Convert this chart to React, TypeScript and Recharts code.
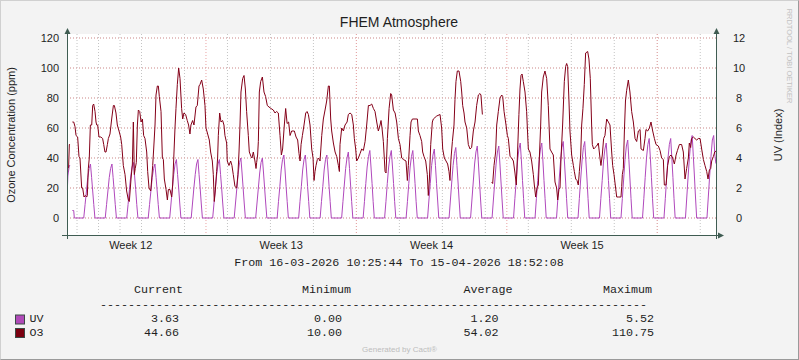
import { LineChart, Line, XAxis, YAxis, CartesianGrid } from "recharts"

// hours since 16-03-2026 00:00 (axis time), O3 in ppm
const o3Readings: [number, number | null][] = [
  [12.8, 27], [13.8, 33], [14.6, 34], [15.4, 49], [16.2, 49], [17.5, null], [18.8, 64], [20.3, 64],
  [21.7, 61], [22.9, 55], [24.7, 54], [26.2, 41], [27.3, 40], [29.2, 20], [30.3, 20], [31.8, 14],
  [33.3, 15], [34.8, 14], [35.5, 15], [36.6, 33], [37.7, 40], [38.9, 62], [40.4, 62], [41.5, 75],
  [42.6, 76], [44.1, 71], [45.2, 64], [46.0, 62], [47.1, 62], [48.5, 54], [50.6, 54], [52.6, 53],
  [53.8, 49], [55.2, 44], [56.4, 44], [57.9, 49], [59.0, 53], [60.8, 56], [62.7, 66], [64.6, 75],
  [65.7, 75], [67.5, 70], [69.0, 62], [70.9, 58], [72.7, 54], [73.9, 49], [75.7, 35], [77.6, 29],
  [79.4, 18], [81.3, 12], [82.4, 11], [84.3, 26], [85.8, 36], [86.9, 64], [88.0, 29], [89.0, 33],
  [90.2, 37], [91.4, 62], [92.5, 72], [94.0, 71], [95.5, 64], [97.0, 66], [98.4, 55], [99.9, 53],
  [101.8, 44], [102.9, 31], [104.4, 20], [106.3, 18], [107.4, 26], [108.5, 35], [109.6, 46], [111.1, 62],
  [112.2, 82], [113.7, 88], [114.8, 88], [115.9, 81], [117.8, 71], [119.3, 40], [120.4, 39], [121.5, 26],
  [123.4, 19], [124.9, 12], [126.0, 19], [127.8, 19], [129.7, 14], [130.8, 22], [132.3, 44], [133.4, 60],
  [134.5, 73], [136.0, 89], [137.5, 100], [139.0, 93], [140.8, 73], [142.0, 66], [143.4, 70], [145.3, 69],
  [147.1, 65], [148.6, 62], [150.1, 56], [151.2, 62], [153.1, 65], [154.6, 62], [156.8, 74], [158.3, 75],
  [160.2, 88], [161.3, 89], [163.2, 92], [165.0, 86], [166.9, 75], [168.0, 60], [169.9, 56], [171.7, 52],
  [173.2, 44], [175.1, 38], [176.2, 29], [177.3, 11], [178.4, 18], [179.9, 31], [181.0, 40], [181.8, 55],
  [183.3, 70], [184.8, 64], [186.6, 65], [188.1, 62], [189.2, 55], [191.1, 50], [191.8, 38], [193.7, 35],
  [195.6, 38], [197.0, 35], [198.5, 29], [200.4, 21], [202.3, 20], [203.7, 29], [204.9, 44], [206.0, 62],
  [207.1, 84], [209.0, 93], [210.5, 95], [212.0, 86], [213.4, 71], [215.3, 55], [216.4, 44], [218.3, 41],
  [219.4, 40], [220.9, 44], [222.7, 38], [223.9, 33], [224.6, 37], [225.7, 42], [226.5, 51], [227.6, 84],
  [229.1, 91], [231.0, 94], [232.8, 84], [234.6, 81], [236.5, 75], [238.4, 74], [240.6, 73], [243.2, 72],
  [245.1, 70], [246.9, 71], [248.8, 70], [250.7, 55], [252.2, 42], [253.6, 46], [255.5, 62], [257.0, 73],
  [258.6, 63], [260.3, 64], [261.9, 55], [263.7, 58], [266.7, 58], [268.6, 54], [270.4, 52], [271.9, 43],
  [273.1, 38], [274.2, 49], [275.7, 55], [277.5, 62], [279.4, 70], [280.9, 71], [282.4, 69], [284.2, 62],
  [286.1, 46], [287.6, 40], [288.7, 25], [289.8, 31], [290.9, 35], [292.4, 39], [293.5, 40], [295.4, 38],
  [297.3, 55], [299.1, 66], [301.0, 72], [302.8, 78], [304.7, 88], [305.8, 88], [307.3, 66], [308.4, 58],
  [310.3, 50], [312.2, 44], [314.0, 41], [315.9, 35], [317.0, 31], [317.7, 49], [319.6, 60], [321.5, 58],
  [323.3, 62], [325.6, 64], [327.0, 69], [328.9, 70], [330.8, 69], [332.6, 62], [333.7, 53], [335.2, 46],
  [336.3, 38], [338.2, 40], [340.1, 43], [341.9, 46], [343.8, 45], [345.7, 51], [347.5, 62], [349.4, 75],
  [351.2, 75], [353.1, 76], [355.0, 73], [356.8, 71], [358.7, 64], [360.5, 58], [362.4, 62], [363.5, 65],
  [364.6, 60], [366.1, 51], [368.0, 31], [369.1, 30], [370.6, 53], [372.5, 73], [374.3, 83], [375.4, 82],
  [377.3, 72], [379.2, 70], [381.0, 64], [382.9, 53], [384.7, 49], [386.6, 40], [388.5, 39], [391.4, 38],
  [392.9, 25], [394.0, 35], [395.9, 55], [397.0, 64], [398.5, 66], [401.5, 66], [404.1, 66], [405.2, 58],
  [407.0, 55], [408.9, 51], [410.0, 44], [411.5, 41], [413.4, 38], [415.2, 29], [416.3, 15], [417.5, 26],
  [419.0, 49], [420.8, 64], [421.9, 66], [425.7, 68], [429.4, 69], [431.2, 60], [432.4, 46], [434.2, 40],
  [436.1, 38], [437.9, 36], [439.4, 31], [440.5, 25], [441.7, 40], [443.2, 51], [445.0, 62], [446.1, 79],
  [447.2, 91], [448.7, 98], [450.6, 98], [452.5, 91], [453.6, 84], [454.7, 75], [456.2, 70], [457.3, 64],
  [459.2, 60], [461.0, 49], [462.9, 46], [464.7, 47], [466.6, 58], [468.5, 64], [470.3, 75], [472.2, 82],
  [474.0, 83], [475.1, 82], [476.7, 69], [480.0, null], [487.1, 24], [488.2, 23], [489.7, 35], [491.5, 44],
  [492.7, 62], [494.5, 71], [496.4, 80], [498.3, 82], [499.4, 81], [500.9, 71], [503.1, 62], [504.6, 55],
  [505.7, 53], [507.6, 41], [509.4, 40], [511.3, 38], [513.1, 30], [514.6, 22], [516.0, 44], [517.5, 69],
  [518.7, 86], [519.8, 95], [521.0, 96], [522.4, 91], [524.3, 84], [526.1, 71], [528.0, 46], [529.8, 44],
  [531.7, 38], [533.6, 29], [534.7, 22], [536.2, 14], [537.7, 20], [539.2, 22], [540.3, 40], [541.8, 62],
  [542.9, 84], [544.7, 94], [546.6, 98], [548.5, 93], [550.3, 75], [552.2, 46], [554.0, 44], [555.9, 42],
  [557.8, 24], [559.6, 20], [560.8, 12], [562.2, 19], [563.4, 20], [564.5, 40], [566.3, 62], [568.2, 91],
  [569.7, 101], [570.8, 103], [571.9, 101], [573.4, 78], [574.5, 58], [576.4, 42], [578.3, 35], [579.4, 31],
  [580.9, 26], [582.4, 25], [583.8, 22], [585.0, 31], [586.5, 42], [587.6, 62], [589.0, 73], [590.5, 89],
  [592.0, 110], [594.3, 111], [595.7, 106], [597.2, 93], [598.7, 62], [599.5, 49], [601.0, 46], [602.4, 47],
  [604.3, 48], [606.2, 50], [608.0, 40], [609.1, 35], [610.6, 42], [612.1, 53], [613.6, 55], [615.5, 66],
  [617.4, 64], [619.2, 62], [621.1, 44], [622.2, 35], [623.7, 29], [625.5, 20], [626.7, 14], [628.5, 14],
  [631.5, 14], [632.3, 21], [633.0, 29], [634.1, 33], [635.3, 58], [636.5, 78], [637.8, 85], [639.7, 92],
  [641.5, 84], [643.4, 71], [645.3, 64], [647.2, 53], [649.0, 51], [650.9, 58], [652.8, 59], [653.9, 46],
  [656.5, 45], [658.3, 53], [659.4, 59], [661.3, 58], [663.2, 60], [665.0, 64], [666.9, 58], [668.8, 53],
  [670.6, 49], [673.2, 48], [675.1, 45], [676.9, 40], [678.8, 39], [679.9, 22], [681.8, 22], [683.6, 35],
  [685.5, 41], [687.4, 42], [689.2, 40], [691.1, 36], [693.0, 42], [694.5, 45], [696.7, 49], [699.2, 49],
  [701.1, 44], [703.0, 26], [704.8, 33], [706.7, 40], [707.8, 50], [709.3, 47], [710.4, 53], [712.3, 54],
  [714.1, 53], [716.0, 52], [717.9, 53], [719.8, 53], [721.6, 46], [723.5, 39], [725.3, 35], [727.2, 31],
  [728.7, 26], [730.2, 32], [731.7, 33], [732.8, 38], [734.7, 41], [736.2, 44], [737.6, 44.66],
]

// UV: first (partial) day
const uvStartHours = [12.8, 13.8, 15.4, 16.3, 17.4, 18.8, 20.3, 21]
const uvStartValues = [1.3, 2.8, 3.5, 3.5, null, 0.5, 0.5, 0]

// UV: hour of day for each daily reading, then one row per day (day 1 .. day 30)
const uvDayHours = [7.5, 9, 10.5, 12, 13.5, 15, 16.3, 17.5, 18.7, 20]
const uvDaily: number[][] = [
  [0, 0.9, 1.8, 2.7, 3.3, 3.6, 2.7, 1.8, 0.9, 0],
  [0, 0.9, 1.8, 2.7, 3.3, 3.6, 2.7, 1.8, 0.9, 0],
  [0, 0.9, 1.9, 2.8, 3.4, 3.7, 2.8, 1.9, 0.9, 0],
  [0, 0.9, 1.8, 2.7, 3.3, 3.6, 2.7, 1.8, 0.9, 0],
  [0, 1.0, 2.0, 2.9, 3.6, 3.9, 2.9, 2.0, 1.0, 0],
  [0, 1.0, 2.0, 2.9, 3.6, 3.9, 2.9, 2.0, 1.0, 0],
  [0, 1.0, 2.0, 2.9, 3.6, 3.9, 2.9, 2.0, 1.0, 0],
  [0, 1.0, 2.0, 3.0, 3.7, 4.0, 3.0, 2.0, 1.0, 0],
  [0, 1.0, 2.0, 3.0, 3.7, 4.0, 3.0, 2.0, 1.0, 0],
  [0, 1.1, 2.1, 3.2, 3.9, 4.2, 3.2, 2.1, 1.1, 0],
  [0, 1.1, 2.1, 3.2, 3.9, 4.2, 3.2, 2.1, 1.1, 0],
  [0, 1.1, 2.1, 3.2, 3.9, 4.2, 3.2, 2.1, 1.1, 0],
  [0, 1.1, 2.2, 3.3, 4.0, 4.4, 3.3, 2.2, 1.1, 0],
  [0, 1.1, 2.3, 3.4, 4.1, 4.5, 3.4, 2.3, 1.1, 0],
  [0, 1.1, 2.3, 3.4, 4.1, 4.5, 3.4, 2.3, 1.1, 0],
  [0, 1.1, 2.3, 3.4, 4.1, 4.5, 3.4, 2.3, 1.1, 0],
  [0, 1.2, 2.3, 3.5, 4.2, 4.6, 3.5, 2.3, 1.2, 0],
  [0, 1.2, 2.4, 3.5, 4.3, 4.7, 3.5, 2.4, 1.2, 0],
  [0, 1.2, 2.4, 3.6, 4.4, 4.8, 3.6, 2.4, 1.2, 0],
  [0, 1.2, 2.4, 3.6, 4.4, 4.8, 3.6, 2.4, 1.2, 0],
  [0, 1.3, 2.5, 3.8, 4.6, 5.0, 3.8, 2.5, 1.3, 0],
  [0, 1.3, 2.5, 3.8, 4.6, 5.0, 3.8, 2.5, 1.3, 0],
  [0, 1.3, 2.6, 3.8, 4.7, 5.1, 3.8, 2.6, 1.3, 0],
  [0, 1.3, 2.6, 3.8, 4.7, 5.1, 3.8, 2.6, 1.3, 0],
  [0, 1.3, 2.5, 3.8, 4.6, 5.0, 3.8, 2.5, 1.3, 0],
  [0, 1.3, 2.6, 3.9, 4.8, 5.2, 3.9, 2.6, 1.3, 0],
  [0, 1.3, 2.7, 4.0, 4.9, 5.3, 4.0, 2.7, 1.3, 0],
  [0, 1.3, 2.7, 4.0, 4.9, 5.3, 4.0, 2.7, 1.3, 0],
  [0, 1.4, 2.8, 4.1, 5.1, 5.5, 4.1, 2.8, 1.4, 0],
  [0, 1.4, 2.8, 4.1, 5.2, 5.5, 4.2, 3.63],
]

const weekTicks = [84, 252, 420, 588]
const weekLabels = ["Week 12", "Week 13", "Week 14", "Week 15"]
const dayLines = [24, 48, 72, 96, 120, 144, 168, 192, 216, 240, 264, 288, 312, 336, 360, 384, 408, 432, 456, 480, 504, 528, 552, 576, 600, 624, 648, 672, 696, 720]
const weekLines = [168, 336, 504, 672]
const o3Ticks = [0, 20, 40, 60, 80, 100, 120]
const o3Minor = [-10, 10, 30, 50, 70, 90, 110]
const uvTicks = [0, 2, 4, 6, 8, 10, 12]

const legendRows = [
  { name: "UV", color: "#b04ab8", current: "3.63", min: "0.00", avg: "1.20", max: "5.52" },
  { name: "O3", color: "#7a0010", current: "44.66", min: "10.00", avg: "54.02", max: "110.75" },
]

const o3Data = o3Readings.map(([t, v]) => ({ t, o3: v }))
const uvData = [
  ...uvStartHours.map((h, i) => ({ t: h, uv: uvStartValues[i] })),
  ...uvDaily.flatMap((row, d) => row.map((v, i) => ({ t: (d + 1) * 24 + uvDayHours[i], uv: v }))),
]

const SANS = "'Liberation Sans', Arial, sans-serif"
const MONO = "'Liberation Mono', 'Courier New', monospace"
const AXIS = "#3f5c52"
const TXT = "#1e1e1e"

const LeftTick = ({ y, payload }: any) => (
  <text x={59} y={y} textAnchor="end" dominantBaseline="central" fontSize={11} fill={TXT} fontFamily={SANS}>
    {payload.value}
  </text>
)
const RightTick = ({ y, payload }: any) => (
  <text x={739} y={y} textAnchor="middle" dominantBaseline="central" fontSize={11} fill={TXT} fontFamily={SANS}>
    {payload.value}
  </text>
)
const WeekTick = ({ x, payload }: any) => (
  <text x={x} y={245} textAnchor="middle" dominantBaseline="central" fontSize={11} fill={TXT} fontFamily={SANS}>
    {weekLabels[weekTicks.indexOf(payload.value)]}
  </text>
)

export default function App() {
  return (
    <div
      style={{
        position: "absolute",
        left: 0,
        top: 0,
        width: 799,
        height: 360,
        background: "#f3f3f3",
        boxSizing: "border-box",
        borderTop: "1px solid #d0d0d0",
        borderLeft: "1px solid #d0d0d0",
        borderRight: "1px solid #9a9a9a",
        borderBottom: "1px solid #9a9a9a",
      }}
    >
      <div style={{ position: "absolute", left: -1, top: -1 }}>
        <LineChart width={799} height={360} margin={{ top: 34, right: 43, bottom: 105, left: 27 }}>
          <CartesianGrid
            yAxisId="left"
            fill="#ffffff"
            stroke="#c4c4c4"
            strokeDasharray="1 2"
            verticalValues={dayLines}
            horizontalValues={[...o3Minor, ...o3Ticks]}
          />
          <CartesianGrid
            yAxisId="left"
            stroke="#e9a3a3"
            strokeDasharray="1 2"
            verticalValues={weekLines}
            horizontalValues={o3Ticks}
          />
          <XAxis
            type="number"
            dataKey="t"
            domain={[12.8, 737.6]}
            ticks={weekTicks}
            tick={<WeekTick />}
            axisLine={false}
            tickLine={false}
            height={20}
            allowDataOverflow
          />
          <YAxis
            yAxisId="left"
            domain={[-11.33, 122.67]}
            ticks={o3Ticks}
            tick={<LeftTick />}
            axisLine={false}
            tickLine={false}
            width={40}
            allowDataOverflow
          />
          <YAxis
            yAxisId="right"
            orientation="right"
            domain={[-1.133, 12.267]}
            ticks={uvTicks}
            tick={<RightTick />}
            axisLine={false}
            tickLine={false}
            width={40}
            allowDataOverflow
          />
          <Line
            yAxisId="right"
            data={uvData}
            dataKey="uv"
            type="linear"
            stroke="#b048bc"
            strokeWidth={1}
            dot={false}
            isAnimationActive={false}
          />
          <Line
            yAxisId="left"
            data={o3Data}
            dataKey="o3"
            type="linear"
            stroke="#840018"
            strokeWidth={1}
            dot={false}
            isAnimationActive={false}
          />
        </LineChart>
      </div>

      <svg width={799} height={360} style={{ position: "absolute", left: -1, top: -1, pointerEvents: "none" }}>
        {/* axes with arrows */}
        <line x1={67.5} y1={239} x2={67.5} y2={31} stroke={AXIS} />
        <polygon points="67.5,28 64.5,34 70.5,34" fill={AXIS} />
        <line x1={716.5} y1={239} x2={716.5} y2={31} stroke={AXIS} />
        <polygon points="716.5,28 713.5,34 719.5,34" fill={AXIS} />
        <line x1={62} y1={235.5} x2={720} y2={235.5} stroke={AXIS} />
        <polygon points="724,235.5 718,232.5 718,238.5" fill={AXIS} />

        <text x={399} y={22} textAnchor="middle" dominantBaseline="central" fontSize={14} fill={TXT} fontFamily={SANS}>
          FHEM Atmosphere
        </text>
        <text
          transform="translate(10.5,135) rotate(-90)"
          textAnchor="middle"
          dominantBaseline="central"
          fontSize={11}
          fill={TXT}
          fontFamily={SANS}
        >
          Ozone Concentration (ppm)
        </text>
        <text
          transform="translate(778,135) rotate(-90)"
          textAnchor="middle"
          dominantBaseline="central"
          fontSize={11}
          fill={TXT}
          fontFamily={SANS}
        >
          UV (Index)
        </text>
        <text
          transform="translate(789,56) rotate(90)"
          textAnchor="middle"
          dominantBaseline="central"
          fontSize={7.5}
          fill="#c2c2c2"
          fontFamily={SANS}
        >
          RRDTOOL / TOBI OETIKER
        </text>

        <g fontFamily={MONO} fontSize={11.7} fill={TXT}>
          <text x={399} y={263} textAnchor="middle" dominantBaseline="central">
            From 16-03-2026 10:25:44 To 15-04-2026 18:52:08
          </text>
          <text x={134} y={289.5} dominantBaseline="central">Current</text>
          <text x={302} y={289.5} dominantBaseline="central">Minimum</text>
          <text x={463.5} y={289.5} dominantBaseline="central">Average</text>
          <text x={603} y={289.5} dominantBaseline="central">Maximum</text>
          <text x={100} y={304.5} dominantBaseline="central">{"-".repeat(78)}</text>
          {legendRows.map((r, i) => {
            const y = 319 + i * 13.5
            return (
              <g key={r.name}>
                <rect x={15.5} y={y - 4} width={9} height={9} fill={r.color} stroke="#3b4a45" />
                <text x={29.5} y={y} dominantBaseline="central">{r.name}</text>
                <text x={179} y={y} textAnchor="end" dominantBaseline="central">{r.current}</text>
                <text x={342} y={y} textAnchor="end" dominantBaseline="central">{r.min}</text>
                <text x={498.5} y={y} textAnchor="end" dominantBaseline="central">{r.avg}</text>
                <text x={654} y={y} textAnchor="end" dominantBaseline="central">{r.max}</text>
              </g>
            )
          })}
        </g>
        <text x={399.5} y={349.5} textAnchor="middle" dominantBaseline="central" fontSize={8} fill="#bdbdbd" fontFamily={SANS}>
          Generated by Cacti®
        </text>
      </svg>
    </div>
  )
}
